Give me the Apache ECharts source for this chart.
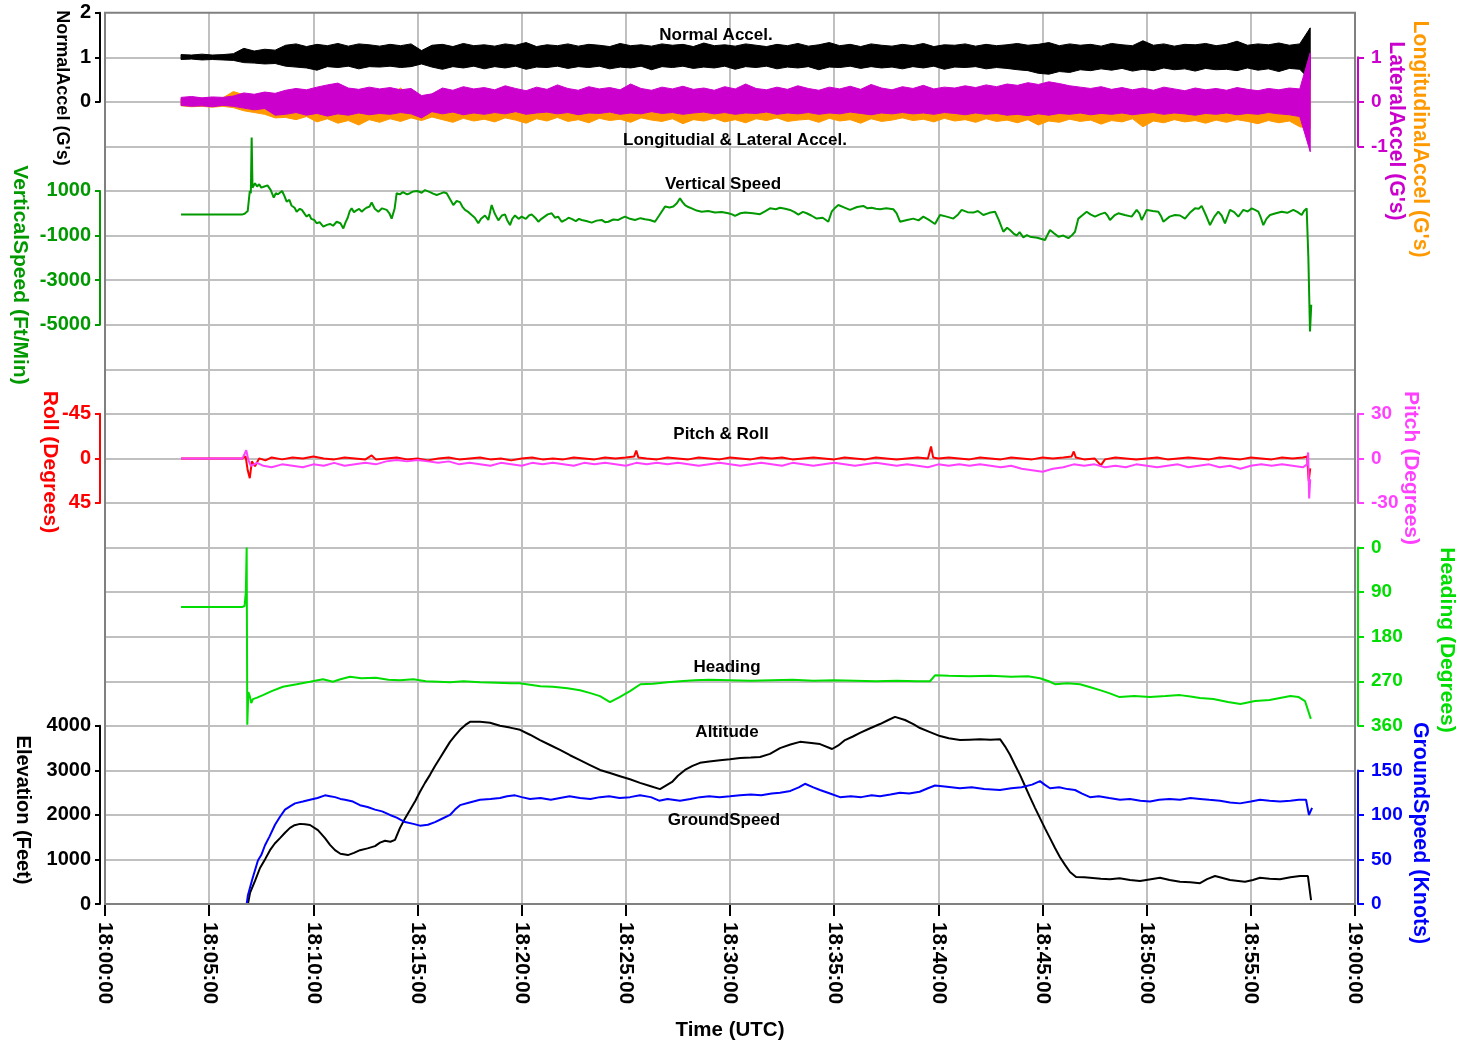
<!DOCTYPE html>
<html>
<head>
<meta charset="utf-8">
<title>Flight data</title>
<script src="https://cdn.jsdelivr.net/npm/echarts@6/dist/echarts.min.js"></script>
<style>
  html, body { margin: 0; padding: 0; background: #fff; }
  #chart { width: 1463px; height: 1047px; }
</style>
</head>
<body>
<div id="chart"></div>
<script>
// all times are minutes after 18:00:00 UTC

// accelerometer envelopes, sampled evenly between accelStart and accelEnd
const accelStart = 3.65;
const accelEnd = 57.85;

const normalAccelHigh = [
  1.06, 1.05, 1.07, 1.05, 1.06, 1.08,
  1.20, 1.14, 1.18, 1.16,
  1.27, 1.30, 1.24, 1.29, 1.26, 1.31, 1.25, 1.30, 1.28, 1.25,
  1.29, 1.26, 1.30, 1.15, 1.27, 1.29, 1.24, 1.31, 1.26, 1.28,
  1.25, 1.30, 1.27, 1.33, 1.24, 1.28, 1.26, 1.30, 1.25, 1.29,
  1.27, 1.24, 1.31, 1.26, 1.28, 1.25, 1.30, 1.27, 1.29, 1.24,
  1.32, 1.26, 1.28, 1.25, 1.30, 1.27, 1.24, 1.29, 1.26, 1.31,
  1.25, 1.28, 1.33, 1.26, 1.29, 1.24, 1.30, 1.27, 1.25, 1.29,
  1.26, 1.31, 1.24, 1.28, 1.27, 1.30, 1.25, 1.29, 1.26, 1.28,
  1.31, 1.27, 1.29, 1.33, 1.26, 1.30, 1.27, 1.29, 1.25, 1.31,
  1.28, 1.26, 1.37, 1.27, 1.30, 1.25, 1.29, 1.28, 1.31, 1.26,
  1.29, 1.36, 1.27, 1.30, 1.28, 1.32, 1.27, 1.30, 1.66
];
const normalAccelLow = [
  0.95, 0.96, 0.94, 0.95, 0.94, 0.93,
  0.88, 0.87, 0.85, 0.86,
  0.80, 0.78, 0.76, 0.71, 0.79, 0.77, 0.80, 0.74, 0.79, 0.78,
  0.80, 0.77, 0.79, 0.85, 0.78, 0.73, 0.79, 0.76, 0.80, 0.74,
  0.79, 0.76, 0.80, 0.73, 0.78, 0.77, 0.80, 0.75, 0.79, 0.77,
  0.80, 0.74, 0.78, 0.76, 0.80, 0.72, 0.79, 0.77, 0.80, 0.75,
  0.78, 0.76, 0.80, 0.73, 0.79, 0.77, 0.80, 0.74, 0.78, 0.76,
  0.79, 0.72, 0.78, 0.77, 0.80, 0.75, 0.79, 0.76, 0.78, 0.74,
  0.79, 0.76, 0.80, 0.73, 0.78, 0.77, 0.79, 0.74, 0.77, 0.75,
  0.72, 0.70, 0.64, 0.62, 0.68, 0.66, 0.72, 0.70, 0.74, 0.71,
  0.75, 0.69, 0.73, 0.70, 0.76, 0.72, 0.74, 0.69, 0.75, 0.72,
  0.73, 0.70, 0.76, 0.71, 0.74, 0.68, 0.75, 0.73, 0.49
];
const longAccelHigh = [
  0.06, 0.08, 0.05, 0.07, 0.09, 0.23,
  0.16, 0.10, 0.12, 0.08,
  0.10, 0.14, 0.08, 0.12, 0.15, 0.10, 0.13, 0.09, 0.14, 0.11,
  0.15, 0.31, 0.12, 0.08, 0.10, 0.14, 0.09, 0.13, 0.11, 0.15,
  0.12, 0.09, 0.14, 0.11, 0.16, 0.10, 0.13, 0.09, 0.15, 0.12,
  0.10, 0.14, 0.11, 0.16, 0.12, 0.09, 0.13, 0.10, 0.15, 0.11,
  0.13, 0.10, 0.16, 0.12, 0.09, 0.14, 0.11, 0.15, 0.10, 0.13,
  0.11, 0.15, 0.10, 0.14, 0.12, 0.09, 0.16, 0.11, 0.13, 0.10,
  0.14, 0.11, 0.16, 0.12, 0.10, 0.15, 0.11, 0.13, 0.09, 0.14,
  0.12, 0.16, 0.11, 0.15, 0.10, 0.13, 0.09, 0.14, 0.11, 0.15,
  0.10, 0.13, 0.16, 0.11, 0.14, 0.09, 0.12, 0.15, 0.10, 0.13,
  0.11, 0.14, 0.10, 0.16, 0.12, 0.09, 0.13, 0.11, 0.50
];
const longAccelLow = [
  -0.09, -0.11, -0.10, -0.12, -0.10, -0.13,
  -0.20, -0.24, -0.28, -0.36,
  -0.35, -0.40, -0.33, -0.45, -0.38, -0.48, -0.42, -0.52, -0.40, -0.46,
  -0.38, -0.44, -0.36, -0.42, -0.34, -0.40, -0.46, -0.37, -0.43, -0.39,
  -0.45, -0.36, -0.41, -0.48, -0.38, -0.43, -0.35, -0.44, -0.40, -0.47,
  -0.37, -0.42, -0.39, -0.46, -0.36, -0.41, -0.44, -0.38, -0.49, -0.40,
  -0.43, -0.37, -0.45, -0.40, -0.47, -0.38, -0.42, -0.36, -0.44, -0.41,
  -0.39, -0.46, -0.37, -0.43, -0.40, -0.48, -0.38, -0.44, -0.41, -0.36,
  -0.42, -0.39, -0.45, -0.37, -0.43, -0.40, -0.46, -0.38, -0.44, -0.41,
  -0.47, -0.40, -0.52, -0.43, -0.46, -0.39, -0.44, -0.41, -0.50, -0.42,
  -0.45, -0.38, -0.56, -0.43, -0.47, -0.40, -0.45, -0.42, -0.48, -0.41,
  -0.46, -0.40, -0.44, -0.49, -0.42, -0.47, -0.43, -0.56, -0.60
];
const latAccelHigh = [
  0.10, 0.12, 0.09, 0.11, 0.10, 0.13,
  0.20, 0.17, 0.22, 0.19,
  0.26, 0.30, 0.27, 0.33, 0.38, 0.42, 0.31, 0.28, 0.33, 0.29,
  0.32, 0.27, 0.30, 0.14, 0.18, 0.31, 0.26, 0.34, 0.29, 0.32,
  0.27, 0.36, 0.30, 0.25, 0.33, 0.28, 0.38, 0.30, 0.26, 0.34,
  0.29, 0.32, 0.27, 0.40, 0.30, 0.26, 0.33, 0.29, 0.35, 0.28,
  0.31, 0.26, 0.34, 0.29, 0.40, 0.30, 0.27, 0.33, 0.28, 0.36,
  0.30, 0.26, 0.33, 0.29, 0.35, 0.28, 0.39, 0.31, 0.27, 0.34,
  0.30, 0.37, 0.29, 0.33, 0.31, 0.36, 0.32, 0.38, 0.34, 0.40,
  0.37, 0.43, 0.39, 0.45, 0.41, 0.36, 0.33, 0.30, 0.34, 0.28,
  0.32, 0.27, 0.31, 0.26, 0.33, 0.29, 0.25, 0.31, 0.27, 0.30,
  0.26, 0.32, 0.28, 0.25, 0.30, 0.27, 0.31, 0.29, 1.10
];
const latAccelLow = [
  -0.08, -0.10, -0.09, -0.11, -0.08, -0.10,
  -0.14, -0.18, -0.15, -0.30,
  -0.28, -0.24, -0.30, -0.26, -0.32, -0.27, -0.30, -0.25, -0.29, -0.26,
  -0.28, -0.24, -0.27, -0.36, -0.22, -0.27, -0.23, -0.29, -0.25, -0.28,
  -0.24, -0.27, -0.22, -0.28, -0.25, -0.23, -0.27, -0.24, -0.29, -0.25,
  -0.26, -0.23, -0.28, -0.25, -0.27, -0.22, -0.26, -0.24, -0.28, -0.25,
  -0.23, -0.27, -0.24, -0.28, -0.25, -0.26, -0.23, -0.28, -0.25, -0.27,
  -0.24, -0.28, -0.25, -0.27, -0.23, -0.26, -0.29, -0.25, -0.27, -0.24,
  -0.27, -0.25, -0.28, -0.24, -0.26, -0.29, -0.25, -0.28, -0.26, -0.30,
  -0.28, -0.31, -0.27, -0.30, -0.26, -0.28, -0.25, -0.29, -0.26, -0.28,
  -0.25, -0.29, -0.26, -0.24, -0.28, -0.25, -0.27, -0.30, -0.26, -0.28,
  -0.25, -0.29, -0.26, -0.28, -0.24, -0.27, -0.29, -0.33, -1.12
];

// [minute, ft/min]
const verticalSpeed = [
  [3.65, -50], [6.6, -50], [6.7, -20], [6.75, -60], [6.85, 100], [6.95, 1000], [7.0, 900],
  [7.04, 3400], [7.08, 1150], [7.2, 1350], [7.3, 1200], [7.4, 1300], [7.5, 1150], [7.65, 1200],
  [7.8, 1250], [7.95, 1050], [8.1, 700], [8.2, 900], [8.3, 850], [8.5, 1000], [8.6, 800],
  [8.72, 520], [8.85, 600], [8.95, 350], [9.1, 250], [9.2, 70], [9.35, 200], [9.45, 150],
  [9.6, -50], [9.68, -150], [9.8, -50], [9.9, -250], [10.05, -300], [10.16, -450],
  [10.3, -400], [10.48, -600], [10.65, -520], [10.8, -480], [10.95, -560], [11.12, -380],
  [11.3, -450], [11.44, -680], [11.55, -400], [11.65, -200], [11.75, 100], [11.84, 220],
  [11.95, 50], [12.05, 120], [12.2, 200], [12.32, 70], [12.45, 180], [12.55, 250],
  [12.7, 300], [12.8, 480], [12.95, 200], [13.12, 70], [13.3, 220], [13.52, 150],
  [13.65, 0], [13.76, -240], [13.9, 200], [14.0, 900], [14.15, 850], [14.3, 950],
  [14.5, 850], [14.64, 900], [14.8, 980], [15.0, 1000], [15.2, 920], [15.36, 1040],
  [15.6, 950], [15.75, 880], [15.92, 820], [16.1, 880], [16.25, 940], [16.4, 900],
  [16.55, 650], [16.72, 370], [16.88, 550], [17.04, 500], [17.15, 300], [17.28, 150],
  [17.45, 50], [17.6, -80], [17.75, -200], [17.92, -450], [18.05, -250], [18.24, -100],
  [18.4, -300], [18.56, 370], [18.7, 0], [18.88, -320], [19.05, -100], [19.2, -50],
  [19.3, -300], [19.44, -530], [19.55, -250], [19.68, -100], [19.85, -250], [20.0, -150],
  [20.2, -250], [20.35, -100], [20.48, -50], [20.65, -200], [20.8, -380], [20.95, -250],
  [21.1, -150], [21.25, -50], [21.44, 0], [21.6, -200], [21.75, -150], [21.92, -380],
  [22.1, -300], [22.25, -200], [22.4, -250], [22.6, -350], [22.75, -250], [22.88, -300],
  [23.1, -350], [23.36, -420], [23.6, -330], [23.84, -300], [24.0, -400], [24.16, -380],
  [24.4, -280], [24.64, -300], [24.8, -220], [24.96, -150], [25.2, -250], [25.44, -300],
  [25.7, -220], [25.92, -270], [26.15, -300], [26.4, -380], [26.6, -100], [26.88, 300],
  [27.1, 260], [27.28, 300], [27.45, 450], [27.6, 670], [27.72, 500], [27.84, 370],
  [28.0, 280], [28.16, 220], [28.4, 120], [28.64, 70], [28.95, 100], [29.28, 30],
  [29.6, 60], [29.92, 0], [30.1, -50], [30.24, -120], [30.5, 0], [30.72, 30], [31.1, 0],
  [31.44, -40], [31.7, 100], [31.92, 220], [32.2, 180], [32.4, 250], [32.65, 200],
  [32.88, 150], [33.1, 50], [33.28, -60], [33.5, 60], [33.68, 0], [33.9, -100],
  [34.16, -240], [34.45, -200], [34.72, -380], [34.88, 70], [35.05, 250], [35.2, 370],
  [35.5, 250], [35.76, 150], [36.1, 280], [36.4, 330], [36.6, 220], [36.8, 250],
  [37.0, 200], [37.2, 180], [37.5, 220], [37.84, 180], [38.0, 0], [38.16, -380],
  [38.5, -300], [38.8, -240], [39.05, -320], [39.28, -150], [39.55, -300], [39.84, -480],
  [40.08, -80], [40.4, -150], [40.72, -240], [40.95, -50], [41.12, 150], [41.4, 50],
  [41.68, 30], [41.9, 100], [42.16, -80], [42.45, 20], [42.72, 70], [42.9, -300],
  [43.12, -830], [43.3, -650], [43.44, -750], [43.6, -900], [43.76, -1000], [43.9, -850],
  [44.08, -1080], [44.25, -980], [44.4, -1050], [44.75, -1100], [45.12, -1200],
  [45.25, -950], [45.36, -750], [45.55, -900], [45.76, -1050], [46.0, -1000],
  [46.24, -1120], [46.4, -1000], [46.56, -830], [46.72, -240], [46.9, -100], [47.12, 70],
  [47.3, -50], [47.52, -150], [47.75, -50], [48.0, 30], [48.12, -100], [48.24, -300],
  [48.45, -100], [48.64, 0], [48.95, -80], [49.28, -150], [49.52, 150], [49.65, 0],
  [49.76, -300], [49.9, -50], [50.0, 150], [50.3, 100], [50.56, 70], [50.7, -150],
  [50.8, -380], [51.1, -150], [51.36, -80], [51.6, -100], [51.84, -240], [52.1, 50],
  [52.32, 220], [52.5, 200], [52.64, 330], [52.85, -100], [53.04, -530], [53.25, -150],
  [53.44, 70], [53.6, -100], [53.76, -450], [53.9, -100], [54.0, 150], [54.2, 50],
  [54.4, -150], [54.52, 0], [54.64, 150], [54.85, 80], [55.04, 220], [55.2, 150],
  [55.36, 70], [55.48, -200], [55.6, -530], [55.75, -250], [55.92, -80], [56.2, 0],
  [56.48, 70], [56.75, 20], [57.04, 150], [57.25, 50], [57.44, -80], [57.55, 100],
  [57.68, 220], [57.76, -1950], [57.84, -5300], [57.9, -4100]
];

// [minute, degrees]
const roll = [
  [3.65, 0], [6.6, 0], [6.75, -2], [6.85, 12], [6.95, 20], [7.05, 3], [7.2, 8], [7.4, 0],
  [7.7, 2], [8, -1], [8.5, 1], [9, -1], [9.5, 0], [10, -2], [10.5, 0], [11, 1], [11.5, -1],
  [12, 0], [12.5, 1], [12.8, -3], [13, 1], [13.5, 0], [14, -1], [14.5, 1], [15, 0], [15.5, 2],
  [16, 0], [16.5, -1], [17, 1], [17.5, 0], [18, -1], [18.5, 1], [19, 0], [19.5, 2], [20, 0],
  [20.5, -1], [21, 1], [21.5, 0], [22, 1], [22.5, -1], [23, 0], [23.5, 1], [24, -1], [24.5, 0],
  [25, -1], [25.4, -2], [25.5, -8], [25.6, -1], [26, 0], [26.5, 1], [27, -1], [27.5, 0],
  [28, 1], [28.5, -1], [29, 0], [29.5, 1], [30, -1], [30.5, 0], [31, 1], [31.5, -1], [32, 0],
  [32.5, -1], [33, 1], [33.5, 0], [34, -1], [34.5, 0], [35, 1], [35.5, -1], [36, 0], [36.5, 1],
  [37, -1], [37.5, 0], [38, 1], [38.5, 0], [39, -1], [39.5, 0], [39.65, -12], [39.75, -1],
  [40, 0], [40.5, -1], [41, 0], [41.5, 1], [42, -1], [42.5, 0], [43, 1], [43.5, -1], [44, 0],
  [44.5, 1], [45, -1], [45.5, 0], [46, -1], [46.4, -2], [46.5, -7], [46.6, -1], [47, 1],
  [47.5, 0], [47.8, 7], [48, 1], [48.5, -1], [49, 0], [49.5, 1], [50, 0], [50.5, -1], [51, 1],
  [51.5, 0], [52, -1], [52.5, 0], [53, 1], [53.5, -1], [54, 0], [54.5, 1], [55, -1], [55.5, 0],
  [56, 1], [56.5, -1], [57, 0], [57.5, -1], [57.7, -2], [57.78, 23], [57.85, 10]
];
const pitch = [
  [3.65, 0], [6.6, 0], [6.7, 3], [6.78, 5.5], [6.88, -1], [7.0, -5], [7.3, -3], [7.6, -5],
  [8, -6], [8.5, -4], [9, -5], [9.5, -6], [10, -4], [10.5, -5], [11, -3], [11.5, -5], [12, -4],
  [12.5, -3], [13, -4], [13.5, -2], [14, -1], [14.5, -2], [15, -1], [15.5, -2], [16, -3],
  [16.5, -2], [17, -4], [17.5, -3], [18, -4], [18.5, -5], [19, -3], [19.5, -4], [20, -5],
  [20.5, -3], [21, -4], [21.5, -3], [22, -4], [22.5, -5], [23, -3], [23.5, -4], [24, -3],
  [24.5, -4], [25, -5], [25.5, -3], [26, -4], [26.5, -3], [27, -4], [27.5, -3], [28, -4],
  [28.5, -5], [29, -4], [29.5, -3], [30, -4], [30.5, -5], [31, -4], [31.5, -3], [32, -4],
  [32.5, -5], [33, -3], [33.5, -4], [34, -5], [34.5, -4], [35, -3], [35.5, -4], [36, -5],
  [36.5, -4], [37, -3], [37.5, -4], [38, -5], [38.5, -4], [39, -5], [39.5, -6], [40, -4],
  [40.5, -5], [41, -4], [41.5, -5], [42, -4], [42.5, -5], [43, -6], [43.5, -5], [44, -7],
  [44.5, -8], [45, -9], [45.5, -7], [46, -6], [46.5, -4], [47, -5], [47.5, -4], [48, -6],
  [48.5, -5], [49, -6], [49.5, -4], [50, -5], [50.5, -6], [51, -5], [51.5, -4], [52, -6],
  [52.5, -5], [53, -4], [53.5, -6], [54, -5], [54.5, -7], [55, -5], [55.5, -4], [56, -5],
  [56.5, -4], [57, -5], [57.5, -6], [57.7, -4], [57.75, 4], [57.8, -27], [57.85, -14]
];
const heading = [
  [3.65, 120], [6.6, 120], [6.7, 118], [6.76, 90], [6.8, 0], [6.82, 0], [6.83, 358],
  [6.88, 292], [6.95, 300], [7.02, 314], [7.1, 306], [7.3, 303], [7.58, 298], [8.0, 290],
  [8.54, 281], [9.2, 276], [9.84, 271], [10.46, 266], [10.94, 271], [11.3, 266], [11.76, 261],
  [12.3, 264], [13, 263], [13.6, 267], [14.16, 268], [14.8, 266], [15.4, 270], [16, 271],
  [16.56, 272], [17.2, 270], [18, 272], [18.8, 273], [19.5, 274], [19.9, 274], [20.4, 277],
  [20.9, 280], [21.5, 281], [22.2, 284], [22.8, 288], [23.3, 294], [23.76, 300], [24.24, 312],
  [24.7, 302], [25.2, 290], [25.7, 276], [26.3, 275], [27, 272], [27.6, 270], [28.3, 268],
  [29, 267], [30, 268], [31, 269], [32, 268], [33, 267], [34, 269], [35, 268], [36, 269],
  [37, 270], [38, 269], [39, 270], [39.6, 270], [39.84, 258], [40.5, 259], [41.5, 260],
  [42.5, 259], [43.5, 261], [44.3, 260], [44.88, 264], [45.3, 270], [45.6, 276], [46.2, 274],
  [46.8, 276], [47.3, 282], [47.76, 288], [48.2, 294], [48.7, 302], [49.4, 300], [50.16, 302],
  [50.9, 300], [51.6, 298], [52.1, 301], [52.56, 304], [53.2, 306], [53.9, 312], [54.5, 316],
  [55.2, 310], [55.9, 308], [56.4, 304], [56.9, 300], [57.3, 302], [57.6, 310], [57.88, 346]
];

// [minute, feet]
const altitude = [
  [3.65, 0], [6.86, 0], [6.96, 250], [7.2, 520], [7.44, 810], [7.7, 1020], [7.92, 1210],
  [8.15, 1360], [8.4, 1480], [8.64, 1600], [8.88, 1710], [9.1, 1770], [9.36, 1800],
  [9.6, 1790], [9.84, 1775], [10.22, 1660], [10.56, 1480], [10.8, 1330], [11.04, 1210],
  [11.3, 1130], [11.66, 1100], [11.95, 1150], [12.24, 1210], [12.6, 1250], [12.96, 1300],
  [13.2, 1380], [13.44, 1420], [13.7, 1400], [13.92, 1440], [14.16, 1710], [14.4, 1920],
  [14.64, 2110], [14.9, 2320], [15.12, 2520], [15.36, 2720], [15.6, 2900], [15.84, 3100],
  [16.08, 3280], [16.32, 3460], [16.56, 3640], [16.8, 3780], [17.04, 3910], [17.3, 4020],
  [17.52, 4090], [18.0, 4090], [18.48, 4070], [18.96, 4000], [19.44, 3960], [19.92, 3910],
  [20.4, 3800], [20.88, 3680], [21.36, 3570], [21.84, 3460], [22.32, 3340], [22.8, 3230],
  [23.28, 3120], [23.76, 3010], [24.24, 2940], [24.72, 2870], [25.2, 2800], [25.68, 2720],
  [26.16, 2650], [26.64, 2580], [27.22, 2740], [27.5, 2880], [27.84, 3010], [28.2, 3100],
  [28.56, 3170], [29.0, 3200], [29.52, 3230], [30.0, 3250], [30.48, 3280], [31.0, 3290],
  [31.44, 3300], [31.92, 3370], [32.4, 3500], [32.9, 3580], [33.36, 3640], [33.8, 3620],
  [34.32, 3590], [34.9, 3480], [35.2, 3560], [35.52, 3680], [35.9, 3760], [36.24, 3840],
  [36.7, 3940], [37.2, 4040], [37.6, 4130], [37.92, 4200], [38.4, 4130], [38.8, 4040],
  [39.12, 3950], [39.6, 3860], [40.08, 3770], [40.5, 3720], [41.04, 3680], [41.5, 3690],
  [42.0, 3700], [42.5, 3690], [42.96, 3700], [43.2, 3540], [43.44, 3350], [43.68, 3120],
  [43.92, 2900], [44.16, 2650], [44.4, 2400], [44.64, 2160], [44.88, 1930], [45.12, 1700],
  [45.36, 1480], [45.6, 1260], [45.84, 1050], [46.08, 880], [46.32, 720], [46.61, 610],
  [47.0, 600], [47.28, 590], [47.8, 570], [48.24, 560], [48.7, 580], [49.2, 540], [49.68, 520],
  [50.2, 560], [50.64, 590], [51.1, 540], [51.6, 500], [52.1, 490], [52.56, 470], [52.9, 560],
  [53.28, 630], [53.6, 590], [54.0, 540], [54.4, 520], [54.72, 500], [55.1, 540],
  [55.44, 590], [55.9, 570], [56.4, 560], [56.9, 600], [57.36, 630], [57.74, 630], [57.89, 90]
];
// [minute, knots]
const groundSpeed = [
  [3.65, 0], [6.8, 0], [6.86, 10], [7.06, 27], [7.34, 49], [7.5, 55], [7.68, 66], [7.9, 76],
  [8.16, 89], [8.4, 98], [8.64, 106], [8.9, 110], [9.12, 113], [9.5, 115], [9.84, 117],
  [10.2, 119], [10.56, 122], [10.8, 121], [11.04, 120], [11.3, 118], [11.52, 117],
  [11.9, 115], [12.24, 111], [12.6, 109], [12.96, 106], [13.3, 104], [13.68, 100],
  [14.0, 97], [14.4, 92], [14.8, 90], [15.12, 88], [15.5, 89], [15.84, 92], [16.2, 96],
  [16.56, 100], [16.8, 106], [17.04, 111], [17.5, 114], [18.0, 117], [18.5, 118],
  [18.96, 119], [19.3, 121], [19.68, 122], [20.0, 120], [20.4, 118], [20.9, 119],
  [21.4, 117], [21.84, 119], [22.3, 121], [22.8, 119], [23.3, 118], [23.76, 120],
  [24.2, 121], [24.7, 119], [25.2, 120], [25.68, 122], [26.2, 120], [26.6, 116], [27.0, 118],
  [27.6, 116], [28.1, 118], [28.56, 120], [29.0, 121], [29.5, 120], [30.0, 121],
  [30.48, 122], [31.0, 123], [31.5, 122], [32.0, 124], [32.4, 125], [32.9, 127], [33.3, 131],
  [33.6, 135], [34.0, 131], [34.32, 128], [34.8, 124], [35.28, 120], [35.8, 121],
  [36.3, 120], [36.8, 122], [37.2, 121], [37.7, 123], [38.16, 125], [38.6, 124], [39.1, 126],
  [39.5, 130], [39.84, 133], [40.3, 132], [41.04, 130], [41.6, 131], [42.2, 129],
  [42.96, 128], [43.5, 130], [44.0, 131], [44.5, 134], [44.88, 138], [45.1, 134],
  [45.36, 130], [45.8, 131], [46.2, 129], [46.56, 128], [46.9, 124], [47.28, 120],
  [47.7, 121], [48.2, 119], [48.72, 117], [49.2, 118], [49.7, 116], [50.16, 115], [50.6, 117],
  [51.1, 118], [51.6, 117], [52.1, 119], [52.56, 118], [53.0, 117], [53.52, 116], [54.0, 114],
  [54.48, 113], [55.0, 115], [55.44, 117], [55.9, 116], [56.4, 115], [56.9, 116], [57.3, 117],
  [57.65, 117], [57.79, 100], [57.94, 108]
];

const FONT = '"Liberation Sans", Arial, sans-serif';
const GRID_COLOR = '#c0c0c0';

// layout: 20 equal rows, 18:00 to 19:00 across
const LEFT = 105, WIDTH = 1250, TOP = 12.7, ROW = 44.57;
const rowY = k => TOP + k * ROW;
const slot = (k, rows) => ({ left: LEFT, width: WIDTH, top: rowY(k), height: rows * ROW });

const grids = [
  Object.assign(slot(0, 20), { show: true, borderColor: '#808080', borderWidth: 2, z: 5 }),
  slot(0, 2),   // normal accel
  slot(1, 2),   // longitudinal / lateral
  slot(4, 3),   // vertical speed
  slot(9, 2),   // pitch & roll
  slot(12, 4),  // heading
  slot(16, 4),  // elevation
  slot(17, 3)   // ground speed
];

const pad2 = n => String(n).padStart(2, '0');
const timeLabel = v => (18 + Math.floor(v / 60)) + ':' + pad2(v % 60) + ':00';

const xAxes = grids.map((g, i) => i === 0 ? {
  type: 'value', gridIndex: 0, min: 0, max: 60, interval: 5,
  axisLine: { onZero: false, lineStyle: { color: '#000', width: 2 } },
  axisTick: { length: 12, lineStyle: { color: '#000', width: 2 } },
  axisLabel: { rotate: -90, margin: 18, color: '#000', fontSize: 20.5, fontWeight: 'bold',
               fontFamily: FONT, formatter: timeLabel, showMinLabel: true, showMaxLabel: true },
  splitLine: { show: true, showMinLine: false, showMaxLine: false,
               lineStyle: { color: GRID_COLOR, width: 2 } },
  name: 'Time (UTC)', nameLocation: 'middle', nameGap: 116,
  nameTextStyle: { color: '#000', fontSize: 20.5, fontWeight: 'bold', fontFamily: FONT }
} : { type: 'value', gridIndex: i, min: 0, max: 60, show: false });

function sideAxis(gridIndex, side, min, max, interval, color, extra) {
  const left = side === 'left';
  return Object.assign({
    type: 'value', gridIndex, position: side, offset: left ? 5 : 3,
    min, max, interval,
    axisLine: { show: true, onZero: false, lineStyle: { color, width: 2 } },
    axisTick: { show: true, length: left ? 5 : 6, lineStyle: { color, width: 2 } },
    axisLabel: { color, fontSize: left ? 20 : 19, fontWeight: 'bold', fontFamily: FONT,
                 margin: left ? 9 : 13, showMinLabel: true, showMaxLabel: true,
                 formatter: v => String(v) },
    splitLine: { show: false }
  }, extra || {});
}

const yAxes = [
  { type: 'value', gridIndex: 0, min: 0, max: 20, interval: 1,
    axisLine: { show: false }, axisTick: { show: false }, axisLabel: { show: false },
    splitLine: { show: true, showMinLine: false, showMaxLine: false,
                 lineStyle: { color: GRID_COLOR, width: 2 } } },
  sideAxis(1, 'left', 0, 2, 1, '#000'),
  sideAxis(2, 'right', -1, 1, 1, '#cc00cc'),
  sideAxis(3, 'left', -5000, 1000, 2000, '#009900'),
  sideAxis(4, 'left', -45, 45, 45, '#ff0000', { inverse: true }),
  sideAxis(4, 'right', -30, 30, 30, '#ff40ff'),
  sideAxis(5, 'right', 0, 360, 90, '#00dd00', { inverse: true }),
  sideAxis(6, 'left', 0, 4000, 1000, '#000'),
  sideAxis(7, 'right', 0, 150, 50, '#0000ff')
];

const accelTimes = normalAccelHigh.map((_, i) =>
  accelStart + i * (accelEnd - accelStart) / (normalAccelHigh.length - 1));

// filled envelope between high and low, as one polygon
function bandSeries(name, axisIndex, high, low, color) {
  return {
    name, type: 'custom', xAxisIndex: axisIndex[0], yAxisIndex: axisIndex[1],
    clip: false, silent: true,
    data: [[accelTimes[0], high[0]]],
    renderItem: (params, api) => {
      const pts = [];
      for (let i = 0; i < accelTimes.length; i++) pts.push(api.coord([accelTimes[i], high[i]]));
      for (let i = accelTimes.length - 1; i >= 0; i--) pts.push(api.coord([accelTimes[i], low[i]]));
      return { type: 'polygon', shape: { points: pts },
               style: { fill: color, stroke: color, lineWidth: 1 } };
    }
  };
}

function lineSeries(name, axisIndex, data, color, width) {
  return {
    name, type: 'line', xAxisIndex: axisIndex[0], yAxisIndex: axisIndex[1], data,
    symbol: 'none', showSymbol: false, clip: false, silent: true,
    lineStyle: { color, width: width || 2 }, itemStyle: { color }
  };
}

const series = [
  bandSeries('NormalAccel', [1, 1], normalAccelHigh, normalAccelLow, '#000'),
  bandSeries('LongitudinalAccel', [2, 2], longAccelHigh, longAccelLow, '#ff9900'),
  bandSeries('LateralAccel', [2, 2], latAccelHigh, latAccelLow, '#cc00cc'),
  lineSeries('VerticalSpeed', [3, 3], verticalSpeed, '#009900', 2),
  lineSeries('Roll', [4, 4], roll, '#ff0000', 2),
  lineSeries('Pitch', [4, 5], pitch, '#ff40ff', 2),
  lineSeries('Altitude', [6, 7], altitude, '#000', 2),
  lineSeries('GroundSpeed', [7, 8], groundSpeed, '#0000ff', 2),
  lineSeries('Heading', [5, 6], heading, '#00dd00', 2)
];

// rotated axis titles and in-plot captions
function vText(text, x, y, color, size) {
  return { type: 'text', x, y, rotation: -Math.PI / 2, z: 100, silent: true,
           style: { text, fill: color, font: 'bold ' + size + 'px ' + FONT,
                    align: 'center', verticalAlign: 'middle' } };
}
function caption(text, x, y) {
  return { type: 'text', x, y, z: 100, silent: true,
           style: { text, fill: '#000', font: 'bold 17px ' + FONT,
                    align: 'center', verticalAlign: 'middle' } };
}

const graphic = [
  vText("NormalAccel (G's)", 62, 88, '#000', 18),
  vText('VerticalSpeed (Ft/Min)', 20, 275, '#009900', 21),
  vText('Roll (Degrees)', 50, 462, '#ff0000', 21),
  vText('Elevation (Feet)', 23, 810, '#000', 20),
  vText("LongitudinalAccel (G's)", 1420, 139, '#ff9900', 21.2),
  vText("LateralAccel (G's)", 1396, 131, '#cc00cc', 21.2),
  vText('Pitch (Degrees)', 1411, 468, '#ff40ff', 21),
  vText('Heading (Degrees)', 1447, 640, '#00dd00', 21),
  vText('GroundSpeed (Knots)', 1420, 833, '#0000ff', 21.4),
  caption('Normal Accel.', 716, 35),
  caption('Longitudial & Lateral Accel.', 735, 140),
  caption('Vertical Speed', 723, 184),
  caption('Pitch & Roll', 721, 434),
  caption('Heading', 727, 667),
  caption('Altitude', 727, 732),
  caption('GroundSpeed', 724, 820)
];

const chart = echarts.init(document.getElementById('chart'));
chart.setOption({
  animation: false,
  backgroundColor: '#fff',
  grid: grids,
  xAxis: xAxes,
  yAxis: yAxes,
  series,
  graphic
});
</script>
</body>
</html>
